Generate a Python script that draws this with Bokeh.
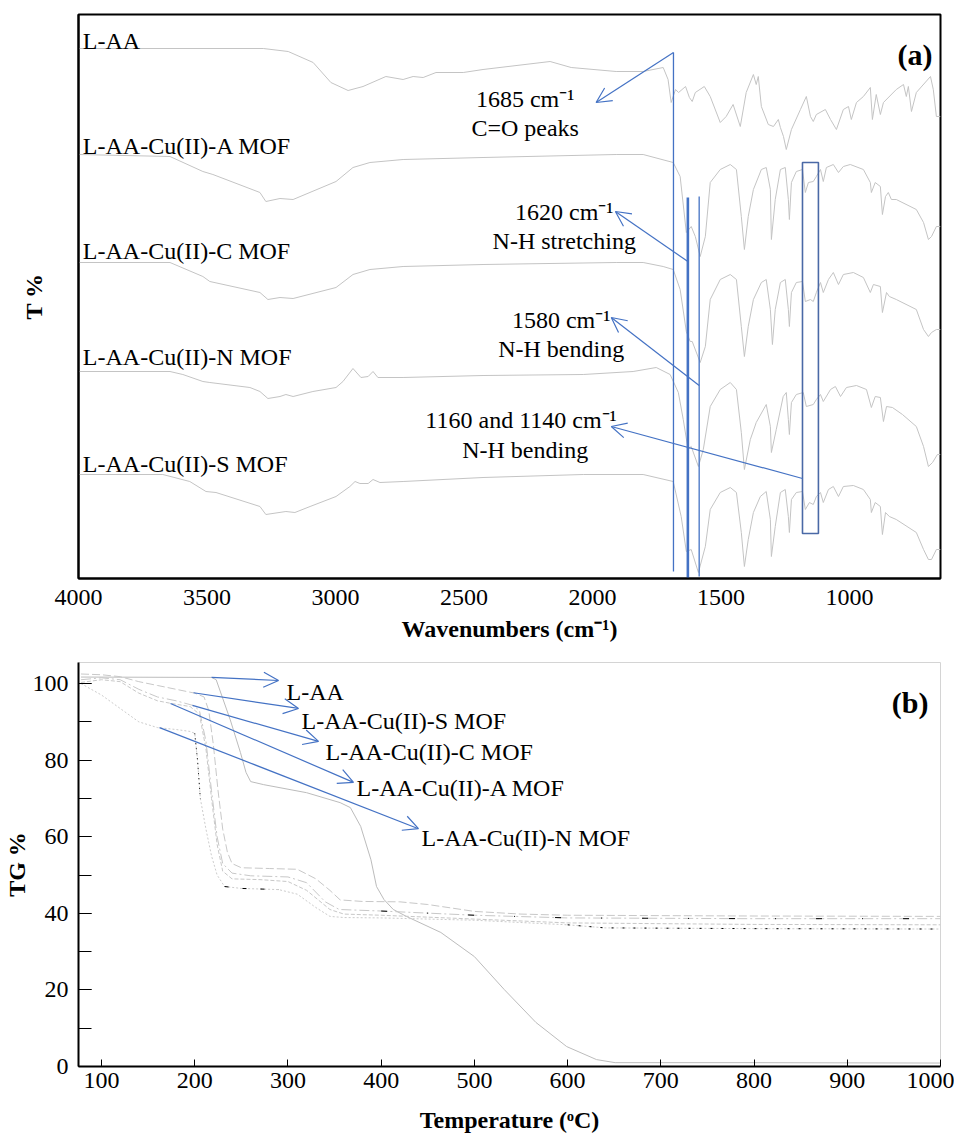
from bokeh.plotting import figure
from bokeh.models import Range1d, FixedTicker, SingleIntervalTicker, Label, Arrow, OpenHead
from bokeh.layouts import column
from bokeh.embed import file_html
from bokeh.resources import INLINE

FONT = "Liberation Serif"
BLUE = "#4472C4"
GRAY = "#c4c4c4"

# ---------------- FTIR spectra (wavenumber cm-1, offset transmittance a.u.) ----------------
ftir_names = ["L-AA", "L-AA-Cu(II)-A MOF", "L-AA-Cu(II)-C MOF", "L-AA-Cu(II)-N MOF", "L-AA-Cu(II)-S MOF"]

laa_wn = [4000, 3281, 3184, 3087, 3018, 2951, 2893, 2804, 2737, 2698, 2659, 2609, 2503, 2426, 2165, 2083, 1908,
          1803, 1725, 1706, 1694, 1677, 1665, 1638, 1623, 1612, 1600, 1565, 1542, 1503, 1480, 1453, 1425, 1402,
          1374, 1363, 1355, 1343, 1316, 1296, 1277, 1269, 1257, 1246, 1226, 1191, 1168, 1152, 1141, 1129, 1094,
          1074, 1051, 1024, 1004, 993, 973, 946, 919, 911, 896, 880, 868, 818, 790, 779, 771, 759, 740, 685, 674,
          662, 646]
laa_t = [530, 530, 527, 516, 496, 488, 492, 502, 499, 502, 501, 506, 506, 509, 517, 511, 507,
         507, 511, 499, 476, 489, 486, 492, 481, 477, 486, 492, 482, 456, 462, 474, 452, 486,
         504, 494, 502, 472, 454, 452, 459, 451, 442, 429, 449, 469, 482, 462, 457, 464, 469,
         459, 449, 469, 472, 459, 476, 482, 491, 459, 484, 464, 476, 489, 494, 482, 492, 467, 486, 502, 489,
         462, 462]

a_wn = [4000, 3644, 3516, 3477, 3294, 3271, 3216, 3165, 2998, 2932, 2866, 2737, 2426, 1908, 1803, 1686, 1659,
        1635, 1616, 1600, 1581, 1561, 1542, 1503, 1464, 1440, 1421, 1409, 1394, 1374, 1343, 1324, 1308, 1304,
        1289, 1269, 1250, 1238, 1234, 1226, 1207, 1183, 1172, 1160, 1141, 1129, 1113, 1102, 1090, 1063, 1043,
        1024, 997, 946, 919, 915, 900, 880, 872, 860, 849, 837, 818, 740, 712, 693, 681, 662, 646]
a_t = [424, 422, 407, 404, 386, 377, 380, 379, 397, 411, 416, 419, 421, 424, 424, 416, 402,
       346, 352, 342, 322, 342, 396, 409, 414, 409, 362, 329, 362, 389, 409, 411, 389, 339,
       379, 409, 411, 379, 359, 396, 407, 409, 386, 396, 397, 402, 409, 397, 411, 414, 406,
       412, 414, 409, 396, 386, 396, 392, 364, 382, 386, 379, 379, 369, 356, 339, 342, 352, 352]

c_wn = [4000, 3644, 3516, 3489, 3294, 3263, 3216, 3165, 2998, 2932, 2866, 2737, 2426, 1908, 1803, 1725, 1686,
        1659, 1635, 1620, 1612, 1581, 1561, 1542, 1503, 1464, 1440, 1421, 1409, 1394, 1374, 1343, 1324, 1308,
        1300, 1289, 1269, 1250, 1238, 1234, 1226, 1207, 1183, 1172, 1152, 1141, 1129, 1113, 1102, 1082, 1063,
        1043, 1024, 985, 946, 919, 907, 880, 872, 856, 845, 818, 740, 712, 693, 681, 662, 646]
c_t = [316, 316, 302, 297, 286, 279, 281, 280, 291, 304, 309, 312, 314, 316, 316, 312, 309,
       289, 247, 237, 237, 216, 232, 279, 299, 304, 299, 252, 222, 252, 279, 296, 299, 269,
       234, 269, 296, 299, 269, 252, 286, 296, 297, 277, 279, 277, 286, 296, 286, 299, 306,
       294, 304, 306, 301, 286, 294, 292, 266, 286, 282, 279, 269, 249, 242, 246, 249, 249]

n_wn = [4000, 3644, 3594, 3516, 3489, 3333, 3294, 3263, 3216, 3193, 3165, 3088, 2998, 2971, 2932, 2901, 2873,
        2854, 2835, 2737, 2426, 2036, 1842, 1752, 1698, 1666, 1647, 1628, 1616, 1588, 1569, 1542, 1503, 1464,
        1440, 1421, 1409, 1386, 1363, 1324, 1308, 1304, 1285, 1258, 1246, 1238, 1234, 1226, 1207, 1180, 1168,
        1141, 1129, 1113, 1102, 1074, 1055, 1035, 1012, 973, 934, 915, 900, 880, 868, 856, 833, 794, 740, 712,
        693, 677, 658, 646]
n_t = [207, 207, 204, 197, 196, 191, 187, 180, 182, 184, 182, 187, 191, 197, 210, 201, 202,
       207, 201, 201, 203, 204, 207, 211, 204, 186, 159, 129, 132, 112, 129, 172, 189, 196,
       189, 146, 109, 139, 156, 174, 152, 126, 149, 182, 186, 159, 144, 176, 184, 186, 172,
       174, 179, 184, 177, 189, 192, 182, 191, 193, 189, 171, 182, 181, 157, 172, 171, 164, 152, 132,
       112, 116, 124, 124]

s_wn = [4000, 3672, 3567, 3504, 3465, 3294, 3271, 3193, 3158, 3099, 2998, 2944, 2924, 2905, 2873, 2854, 2827,
        2737, 2426, 2036, 1803, 1686, 1655, 1635, 1616, 1588, 1561, 1542, 1503, 1464, 1440, 1421, 1409, 1394,
        1374, 1347, 1324, 1308, 1304, 1289, 1269, 1250, 1238, 1234, 1226, 1207, 1183, 1172, 1156, 1141, 1129,
        1113, 1102, 1082, 1063, 1043, 1024, 985, 946, 919, 915, 900, 880, 872, 860, 845, 818, 740, 712, 693,
        681, 662, 646]
s_t = [104, 104, 97, 87, 86, 72, 64, 67, 66, 72, 82, 92, 97, 95, 95, 99, 96,
       97, 101, 104, 104, 97, 62, 27, 29, 6, 32, 69, 86, 91, 86, 46, 12, 39,
       66, 82, 87, 59, 22, 52, 86, 89, 62, 46, 79, 86, 87, 69, 76, 74, 82,
       86, 76, 89, 92, 82, 92, 93, 89, 79, 66, 76, 72, 44, 66, 62, 59, 46, 29, 19,
       19, 29, 29]

ftir_ticks = [4000, 3500, 3000, 2500, 2000, 1500, 1000]

# ---------------- TGA curves (temperature oC, TG %) ----------------
tga_names = ["L-AA", "L-AA-Cu(II)-S MOF", "L-AA-Cu(II)-C MOF", "L-AA-Cu(II)-A MOF", "L-AA-Cu(II)-N MOF"]

tga_laa_T = [78, 218, 223, 238, 249, 255, 260, 274, 320, 356, 367, 378, 389, 395, 403, 413, 427, 464, 500, 532,
             566, 599, 631, 651, 800, 1000]
tga_laa = [101.7, 101.6, 101.0, 90.6, 82.0, 76.8, 74.4, 73.6, 71.5, 68.9, 67.6, 62.7, 54.0, 47.0, 43.6, 41.0,
           39.2, 35.0, 28.7, 20.1, 11.5, 5.2, 1.8, 1.0, 1.0, 0.9]

tga_s_T = [78, 100, 120, 140, 160, 180, 200, 210, 215, 220, 225, 230, 235, 240, 250, 280, 310, 330, 345, 356,
           380, 420, 450, 500, 550, 600, 800, 1000]
tga_s = [102.5, 102.3, 101.8, 100.5, 99.5, 98.5, 97.5, 96.5, 93.0, 84.0, 72.0, 62.0, 56.0, 53.0, 51.9, 51.7,
         51.5, 49.0, 46.0, 43.5, 43.1, 43.0, 42.3, 40.5, 39.8, 39.5, 39.3, 39.2]

tga_c_T = [78, 100, 120, 140, 160, 180, 198, 205, 212, 218, 224, 230, 240, 260, 300, 320, 340, 355, 400, 500,
           600, 800, 1000]
tga_c = [101.0, 101.5, 101.0, 98.5, 96.5, 95.5, 94.3, 93.0, 85.0, 72.0, 60.0, 53.0, 50.5, 49.8, 49.5, 48.0,
         43.0, 41.0, 40.6, 39.5, 38.8, 38.6, 38.6]

tga_a_T = [78, 100, 120, 140, 160, 175, 195, 205, 212, 218, 224, 230, 240, 270, 300, 320, 345, 360, 400, 500,
           600, 800, 1000]
tga_a = [100.3, 101.0, 100.5, 97.5, 95.5, 94.8, 94.0, 92.0, 83.0, 70.0, 58.0, 51.0, 49.0, 48.8, 48.3, 46.0,
         41.0, 39.8, 39.5, 38.5, 37.5, 37.1, 37.0]

tga_n_T = [78, 100, 120, 140, 160, 180, 195, 200, 203, 206, 212, 218, 224, 232, 250, 290, 310, 330, 345, 360,
           400, 500, 600, 640, 800, 1000]
tga_n = [100.0, 97.0, 93.5, 90.0, 88.5, 88.0, 87.5, 87.0, 80.0, 70.0, 62.0, 55.0, 50.0, 47.0, 46.5, 46.2,
         45.0, 41.5, 39.2, 38.9, 38.8, 38.2, 37.0, 36.2, 36.0, 35.9]

tga_ticks = [100, 200, 300, 400, 500, 600, 700, 800, 900, 1000]


def style_common(p):
    p.xgrid.visible = False
    p.ygrid.visible = False
    p.background_fill_color = "white"
    p.border_fill_color = "white"


def style_axis(ax):
    ax.major_label_text_font = FONT
    ax.major_label_text_font_size = "24px"
    ax.major_label_text_color = "black"
    ax.axis_label_text_font = FONT
    ax.axis_label_text_font_style = "bold"
    ax.axis_label_text_font_size = "24px"
    ax.axis_label_text_color = "black"
    ax.axis_line_color = "black"
    ax.axis_line_width = 2
    ax.major_tick_line_color = "black"
    ax.minor_tick_line_color = "black"


# ================= Panel (a) =================
p1 = figure(frame_width=862, frame_height=564, x_range=Range1d(4000, 646), y_range=Range1d(0, 564),
            output_backend="svg", toolbar_location=None,
            min_border_left=67, min_border_right=14, min_border_top=14, min_border_bottom=75)
style_common(p1)
p1.outline_line_color = "black"
p1.outline_line_width = 2

xa = p1.xaxis[0]
style_axis(xa)
xa.ticker = FixedTicker(ticks=ftir_ticks)
xa.major_tick_in = 0
xa.major_tick_out = 0
xa.minor_tick_in = 0
xa.minor_tick_out = 0
xa.major_label_standoff = 11
xa.axis_label = "Wavenumbers (cm⁻¹)"
xa.axis_label_standoff = 8

ya = p1.yaxis[0]
style_axis(ya)
ya.ticker = FixedTicker(ticks=[])
ya.major_tick_in = 0
ya.major_tick_out = 0
ya.minor_tick_in = 0
ya.minor_tick_out = 0
ya.major_label_standoff = 0
ya.axis_label = "T %"
ya.axis_label_standoff = 32

for wn, t in [(laa_wn, laa_t), (a_wn, a_t), (c_wn, c_t), (n_wn, n_t), (s_wn, s_t)]:
    p1.line(wn, t, line_color=GRAY, line_width=1)

for name, ybase in zip(ftir_names, [538, 433, 328, 222, 115]):
    p1.add_layout(Label(x=3983, y=ybase, text=name, text_font=FONT, text_font_size="24px",
                        text_align="left", text_baseline="alphabetic", text_color="black"))

p1.add_layout(Label(x=677, y=524, text="(a)", text_font=FONT, text_font_size="30px", text_font_style="bold",
                    text_align="right", text_baseline="alphabetic", text_color="black"))

p1.segment(x0=[1685], y0=[526], x1=[1685], y1=[7], line_color=BLUE, line_width=1.3)
p1.segment(x0=[1629], y0=[381], x1=[1629], y1=[0], line_color=BLUE, line_width=2.6)
p1.segment(x0=[1585], y0=[382], x1=[1585], y1=[2], line_color=BLUE, line_width=1.3)
p1.quad(left=[1183], right=[1121], bottom=[45], top=[416], fill_color=None, line_color="#4a69a6", line_width=1.6)

for xs, ys, xe, ye in [(1685, 526, 1986, 476), (1629, 317, 1911, 367), (1585, 193, 1927, 261),
                       (1183, 100, 1927, 152)]:
    p1.add_layout(Arrow(end=OpenHead(size=15, line_color=BLUE, line_width=1.2),
                        x_start=xs, y_start=ys, x_end=xe, y_end=ye, line_color=BLUE, line_width=1.2))

for txt, x, y in [("1685 cm⁻¹", 2262, 480), ("C=O peaks", 2262, 451),
                  ("1620 cm⁻¹", 2110, 367), ("N-H stretching", 2110, 338),
                  ("1580 cm⁻¹", 2122, 259), ("N-H bending", 2122, 230),
                  ("1160 and 1140 cm⁻¹", 2278, 159), ("N-H bending", 2262, 129)]:
    p1.add_layout(Label(x=x, y=y, text=txt, text_font=FONT, text_font_size="24px",
                        text_align="center", text_baseline="alphabetic", text_color="black"))

# ================= Panel (b) =================
p2 = figure(frame_width=862, frame_height=404, x_range=Range1d(75.3, 1000), y_range=Range1d(0, 105.5),
            output_backend="svg", toolbar_location=None,
            min_border_left=67, min_border_right=14, min_border_top=9, min_border_bottom=72)
style_common(p2)
p2.outline_line_color = "#d4d4d4"
p2.outline_line_width = 1

xb = p2.xaxis[0]
style_axis(xb)
xb.ticker = FixedTicker(ticks=tga_ticks)
xb.major_tick_in = 7
xb.major_tick_out = 0
xb.minor_tick_in = 0
xb.minor_tick_out = 0
xb.major_label_standoff = 6
xb.axis_label = "Temperature (ᵒC)"
xb.axis_label_standoff = 16

yb = p2.yaxis[0]
style_axis(yb)
yb.ticker = SingleIntervalTicker(interval=20, num_minor_ticks=2)
yb.major_tick_in = 13
yb.major_tick_out = 0
yb.minor_tick_in = 13
yb.minor_tick_out = 0
yb.major_label_standoff = 10
yb.axis_label = "TG %"
yb.axis_label_standoff = 0

p2.line(tga_laa_T, tga_laa, line_color="#bcbcbc", line_width=1)
p2.line(tga_s_T, tga_s, line_color="#c8c8c8", line_width=1, line_dash="8 3")
p2.line(tga_c_T, tga_c, line_color="#c8c8c8", line_width=1, line_dash="10 3 2 3")
p2.line(tga_a_T, tga_a, line_color="#c8c8c8", line_width=1, line_dash="4 2")
p2.line(tga_n_T, tga_n, line_color="#cccccc", line_width=1, line_dash="2 2")

# sparse dark dots that show through on parts of the lower traces
p2.line(tga_n_T[7:10], tga_n[7:10], line_color="black", line_width=1, line_dash="1 4")
p2.line(tga_n_T[13:16], tga_n[13:16], line_color="black", line_width=1, line_dash="4 14")
p2.line(tga_n_T[22:], tga_n[22:], line_color="black", line_width=1, line_dash="2 9")
p2.line(tga_c_T[18:], tga_c[18:], line_color="black", line_width=1, line_dash="6 40 1 40")

for name, (xs, ys, xe, ye), (lx, ly) in zip(
        tga_names,
        [(218, 101.6, 289.9, 100.8), (198.7, 97.6, 311.3, 93.5), (197.6, 94.3, 332.8, 84.9),
         (174, 94.8, 370.3, 74.2), (162.2, 88.5, 440, 62.1)],
        [(298.5, 97.7), (314.5, 90.1), (340.3, 82.2), (373.5, 72.8), (443.3, 59.8)]):
    p2.add_layout(Arrow(end=OpenHead(size=15, line_color=BLUE, line_width=1.2),
                        x_start=xs, y_start=ys, x_end=xe, y_end=ye, line_color=BLUE, line_width=1.2))
    p2.add_layout(Label(x=lx, y=ly, text=name, text_font=FONT, text_font_size="24px",
                        text_align="left", text_baseline="alphabetic", text_color="black"))

p2.add_layout(Label(x=987, y=95, text="(b)", text_font=FONT, text_font_size="30px", text_font_style="bold",
                    text_align="right", text_baseline="alphabetic", text_color="black"))

layout = column(p1, p2, spacing=0)
html = file_html(layout, INLINE)
html = html.replace("</head>", "<style>html, body { overflow: hidden; }</style>\n</head>", 1)
open("out.html", "w").write(html)
